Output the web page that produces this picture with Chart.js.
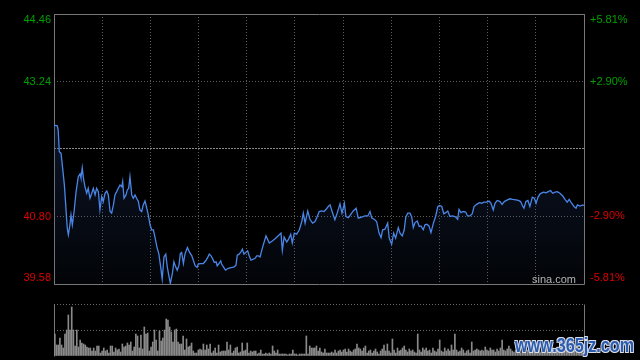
<!DOCTYPE html>
<html><head><meta charset="utf-8">
<script src="https://cdn.jsdelivr.net/npm/chart.js@4.4.1/dist/chart.umd.min.js"></script>
<style>
html,body{margin:0;padding:0;background:#000;width:640px;height:360px;overflow:hidden;}
#wrap{position:relative;width:640px;height:360px;background:#000;}
#pc{position:absolute;left:0;top:0;}
#vc{position:absolute;left:0;top:290px;}
.sina{position:absolute;left:532px;top:273px;font:11px "Liberation Sans",Arial,sans-serif;line-height:12px;color:#b4b4b4;white-space:nowrap;}
.wm{position:absolute;left:515px;top:334px;font:bold 20px "Liberation Sans",Arial,sans-serif;line-height:22px;color:#2b5cb0;white-space:nowrap;transform-origin:0 0;
text-shadow:-1px -1px 0 #d8dde8,1px -1px 0 #d8dde8,-1px 1px 0 #d8dde8,1px 1px 0 #d8dde8;}
</style></head><body>
<div id="wrap">
<canvas id="pc" width="640" height="290"></canvas>
<canvas id="vc" width="640" height="70"></canvas>
<div class="sina">sina.com</div>
<div class="wm" id="wm">www.365jz.com</div>
</div>
<script>
// minute of the trading session (0..240) and price at that minute
const minutes = [0,1.5,1.9,2.4,3.2,3.9,4.7,5.3,6.0,6.5,7.2,7.7,8.3,9.1,10.0,11.0,11.8,12.2,12.8,13.3,
14.0,14.8,15.5,16.3,17.1,17.8,18.6,19.3,20.1,20.8,21.6,22.3,23.1,23.9,24.6,25.4,26.1,26.9,27.6,28.4,
29.1,29.9,30.7,31.1,31.7,32.6,33.2,33.8,34.4,35.2,35.9,36.7,37.4,38.2,38.9,39.7,40.4,41.2,42.0,42.7,
43.5,44.2,45.0,45.7,46.6,47.5,48.3,49.0,49.8,50.6,51.3,52.1,52.7,53.6,54.3,55.1,55.8,56.6,57.2,57.8,
58.6,59.3,60.4,61.3,62.4,63.1,63.9,64.8,65.3,66.4,67.6,68.7,69.6,70.3,71.1,71.9,72.6,73.4,73.9,74.7,
75.5,75.9,76.7,77.7,78.7,79.7,80.7,81.6,82.4,83.0,83.8,84.5,85.3,86.0,86.8,87.7,88.3,89.2,90.2,91.0,
91.8,92.5,93.3,94.5,96.0,97.5,99.0,100.5,102.0,102.8,103.4,104.2,105.4,106.1,107.2,107.9,108.8,109.9,111.1,112.2,
112.9,113.7,114.9,115.9,117.1,118.2,119.2,120.1,121.2,122.3,123.2,124.2,125.0,126.2,127.2,128.3,129.5,130.4,131.5,132.2,
133.3,134.4,135.5,136.8,137.8,139.3,140.8,142.1,143.1,143.9,145.0,146.1,147.2,148.1,148.8,149.9,151.1,151.8,152.9,153.8,
154.7,155.9,156.7,157.7,158.6,159.3,160.2,161.2,162.0,162.7,163.5,164.5,165.4,166.2,167.2,168.0,168.8,169.8,170.7,171.8,
172.8,173.8,174.7,175.6,176.5,177.4,178.3,179.3,180.4,181.6,182.8,183.4,184.3,185.3,186.4,187.3,188.4,189.4,190.2,191.4,
192.6,193.7,194.7,195.9,197.0,197.9,198.9,199.7,200.7,202.0,202.9,203.9,205.3,206.5,207.7,209.1,210.3,211.3,212.2,212.8,
213.7,214.6,215.5,216.6,217.5,218.3,219.2,220.1,221.6,222.8,223.8,224.9,225.8,226.9,227.9,229.1,230.4,231.4,232.4,233.3,
234.4,235.5,236.4,237.0,238.2,239.5,240];
const prices = [42.45,42.44,42.36,41.97,41.94,41.68,41.37,41.01,40.59,40.47,40.65,40.83,40.65,40.89,41.25,41.52,41.57,41.50,41.68,41.50,
41.34,41.22,41.31,41.13,41.22,41.31,41.19,41.31,41.25,40.92,41.16,41.07,41.22,41.26,41.19,40.89,40.86,41.01,41.19,41.25,
41.31,41.37,41.34,41.43,41.13,41.19,41.28,41.31,41.52,41.19,41.13,41.19,41.13,41.07,40.92,40.89,41.01,41.08,40.95,40.83,
40.65,40.56,40.56,40.43,40.25,40.12,39.89,39.67,40.07,40.12,39.89,39.71,39.59,39.77,39.98,39.89,39.83,39.92,40.13,40.15,
39.95,40.12,40.24,40.16,40.09,40.01,39.91,39.88,39.94,39.95,39.95,40.00,40.06,40.12,40.09,40.03,39.97,39.98,39.91,39.95,
40.00,39.94,39.89,39.83,39.86,39.87,39.88,39.89,39.92,40.10,40.12,40.15,40.21,40.12,40.15,40.18,40.10,40.01,40.03,40.04,
40.09,40.09,40.07,40.25,40.45,40.32,40.36,40.41,40.47,40.50,40.19,40.43,40.34,40.38,40.48,40.32,40.50,40.48,40.56,40.71,
40.86,40.68,40.90,40.75,40.68,40.71,40.80,40.89,40.90,40.89,40.93,40.98,41.01,40.86,40.74,40.87,41.03,40.86,41.04,40.80,
40.78,40.84,40.90,40.95,40.77,40.79,40.81,40.81,40.89,40.77,40.75,40.71,40.50,40.42,40.56,40.57,40.68,40.41,40.30,40.50,
40.41,40.60,40.50,40.45,40.56,40.79,40.86,40.86,40.79,40.60,40.69,40.72,40.62,40.63,40.56,40.65,40.66,40.63,40.51,40.68,
40.80,40.98,41.00,40.98,40.85,40.87,40.90,40.80,40.81,40.80,40.75,40.93,40.87,40.89,40.88,40.81,40.81,40.85,40.98,41.02,
41.05,41.04,41.06,41.06,41.08,41.04,40.92,41.04,41.09,41.07,41.02,41.07,41.10,41.12,41.11,41.10,41.09,41.07,40.99,40.95,
41.07,41.09,40.98,41.15,41.13,41.04,41.15,41.21,41.24,41.23,41.25,41.27,41.22,41.24,41.25,41.22,41.17,41.11,41.06,41.11,
41.04,40.98,40.95,41.01,40.99,41.01,41.00];
const priceTicks = [39.58, 40.80, 42.02, 43.24, 44.46];
const pctTicks = [-5.81, -2.90, 0, 2.90, 5.81];
const prevClose = 42.02;
// relative volume per bar
const volumes = [22,11,11,18,11,8,22,26,41,26, 49,26,10,26,9,16,13,12,11,9, 8,8,5,8,5,10,10,3,5,8, 5,6,3,10,10,4,8,6,7,4,
12,9,10,13,11,14,5,9,22,20, 8,21,7,29,22,23,5,9,14,26, 16,5,25,15,18,26,37,36,29,24, 14,26,27,14,12,12,20,6,17,9,
10,13,5,3,3,6,7,6,12,6, 11,7,12,3,5,8,3,11,4,5, 5,5,14,6,11,3,5,8,9,3, 4,13,5,6,13,3,5,4,5,5,
2,3,6,2,2,3,2,3,2,10, 5,3,6,2,2,2,2,2,1,2, 2,6,2,2,1,2,2,2,2,20, 2,10,8,8,8,10,5,8,4,3, 7,3,3,3,
4,3,6,3,5,6,4,6,7,4, 7,5,4,6,7,12,8,7,5,8, 10,3,5,6,3,5,7,4,2,5, 7,11,5,12,5,3,17,6,3,8, 5,6,8,10,6,4,7,5,6,4,
3,22,6,4,8,6,8,5,6,3, 8,5,4,7,16,5,4,8,5,7, 5,11,6,22,6,4,5,8,6,3, 5,6,3,14,5,6,7,6,5,6, 5,9,6,5,8,6,6,4,7,5,
8,16,6,5,7,10,7,5,4,6, 4,7,3,5,4,3,6,8,8,6, 7,5,6,7,4,6,5,7,4,6, 5,8,5,6,4,7,5,6,5,9, 4,6,5,7,6,4,6,8,5,7];
const volTicks = [0, 26, 52];

const GREEN = '#00a000', RED = '#dd0000';
const FONT = '"Liberation Sans", Arial, sans-serif';
const gridMinutes = Array.from({length: 12}, (_, i) => i * 240 / 11);

function edgeLabel(text, i, n) {
  if (i === 0) return [text, ''];
  if (i === n - 1) return ['', text];
  return text;
}

const framePlugin = {
  id: 'frame',
  beforeDatasetsDraw(chart, args, opts) {
    const {ctx, chartArea: a} = chart;
    const l = Math.round(a.left) + 0.5, r = Math.round(a.right) + 0.5;
    const t = Math.round(a.top) + 0.5, b = Math.round(a.bottom) + 0.5;
    ctx.save();
    ctx.strokeStyle = opts.color || '#777';
    ctx.lineWidth = 1;
    ctx.setLineDash([]);
    ctx.beginPath();
    if (opts.full) {
      ctx.moveTo(l, t); ctx.lineTo(r, t); ctx.lineTo(r, b); ctx.lineTo(l, b); ctx.closePath();
    } else {
      ctx.moveTo(l, t); ctx.lineTo(l, b);
      ctx.moveTo(r, t); ctx.lineTo(r, b);
    }
    ctx.stroke();
    ctx.restore();
  }
};

const isPrev = v => Math.abs(v - prevClose) < 1e-6;

new Chart(document.getElementById('pc'), {
  type: 'line',
  data: {
    datasets: [{
      data: minutes.map((t, i) => ({x: t, y: prices[i]})),
      borderColor: '#4a86e8',
      borderWidth: 1.3,
      pointRadius: 0,
      tension: 0,
      fill: 'start',
      backgroundColor: (c) => {
        const ch = c.chart, a = ch.chartArea;
        if (!a) return 'rgba(0,0,0,0)';
        const g = ch.ctx.createLinearGradient(0, a.top, 0, a.bottom);
        g.addColorStop(0, 'rgba(40,70,130,0.45)');
        g.addColorStop(1, 'rgba(40,70,130,0.06)');
        return g;
      },
      yAxisID: 'y'
    }]
  },
  options: {
    responsive: false, animation: false, devicePixelRatio: 1,
    layout: {padding: {top: 14, bottom: 6, left: 0, right: 0}},
    plugins: {legend: {display: false}, tooltip: {enabled: false}, frame: {color: '#777', full: true}},
    scales: {
      x: {
        type: 'linear', min: 0, max: 240,
        afterBuildTicks: s => { s.ticks = gridMinutes.map(v => ({value: v})); },
        ticks: {display: false},
        grid: {color: '#5e5e5e', lineWidth: 1, drawTicks: false},
        border: {display: false, dash: [1, 2]},
        afterFit: s => { s.height = 0; s.paddingLeft = 0; s.paddingRight = 0; }
      },
      y: {
        position: 'left', min: 39.58, max: 44.46,
        afterBuildTicks: s => { s.ticks = priceTicks.map(v => ({value: v})); },
        ticks: {
          padding: 3,
          font: {family: FONT, size: 11, lineHeight: 1.1},
          color: c => (c.tick && c.tick.value > prevClose) ? GREEN : RED,
          callback: (v, i, arr) => isPrev(v) ? '' : edgeLabel(v.toFixed(2), i, arr.length)
        },
        grid: {
          color: c => (c.tick && isPrev(c.tick.value)) ? '#8a8a8a' : '#5e5e5e',
          lineWidth: 1, drawTicks: false
        },
        border: {display: false, dash: c => (c.tick && isPrev(c.tick.value)) ? [2, 1] : [1, 2]},
        afterFit: s => { s.width = 54; s.paddingTop = 0; s.paddingBottom = 0; }
      },
      y1: {
        position: 'right', min: -5.81, max: 5.81,
        afterBuildTicks: s => { s.ticks = pctTicks.map(v => ({value: v})); },
        ticks: {
          padding: 6,
          font: {family: FONT, size: 11, lineHeight: 1.1},
          color: c => (c.tick && c.tick.value > 0) ? GREEN : RED,
          callback: (v, i, arr) => {
            if (v === 0) return '';
            const s = (v > 0 ? '+' : '') + v.toFixed(2) + '%';
            return edgeLabel(s, i, arr.length);
          }
        },
        grid: {display: false, drawTicks: false},
        border: {display: false},
        afterFit: s => { s.width = 56; s.paddingTop = 0; s.paddingBottom = 0; }
      }
    }
  },
  plugins: [framePlugin]
});

new Chart(document.getElementById('vc'), {
  type: 'bar',
  data: {
    labels: volumes.map((_, i) => i),
    datasets: [{data: volumes, backgroundColor: '#8a8a8a', barThickness: 1, categoryPercentage: 1, barPercentage: 1}]
  },
  options: {
    responsive: false, animation: false, devicePixelRatio: 1,
    layout: {padding: {top: 14, bottom: 4, left: 0, right: 56}},
    plugins: {legend: {display: false}, tooltip: {enabled: false}, frame: {color: '#777', full: false}},
    scales: {
      x: {display: false},
      y: {
        min: 0, max: 52,
        afterBuildTicks: s => { s.ticks = volTicks.map(v => ({value: v})); },
        ticks: {display: false},
        grid: {color: c => (c.tick && c.tick.value === 0) ? 'rgba(0,0,0,0)' : '#6a6a6a', drawTicks: false},
        border: {display: false, dash: [1, 2]},
        afterFit: s => { s.width = 54; s.paddingTop = 0; s.paddingBottom = 0; }
      }
    }
  },
  plugins: [framePlugin]
});

const wm = document.getElementById('wm');
const w = wm.offsetWidth;
if (w > 0) wm.style.transform = 'scaleX(' + (119 / w) + ')';
</script>
</body></html>
